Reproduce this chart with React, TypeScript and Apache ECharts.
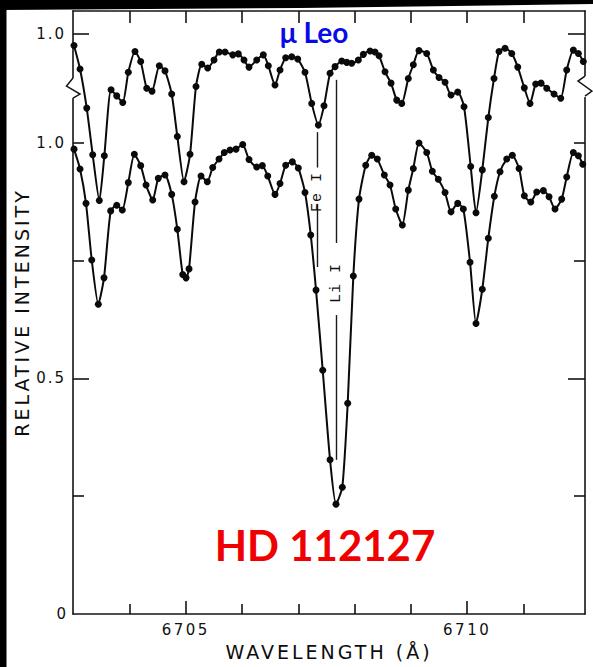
import React, { useEffect, useRef } from 'react';
import * as echarts from 'echarts';

// ---- Data ----
// HD 112127 (lower spectrum), wavelength in Å and relative intensity
const hdWavelength = [
  6703.013, 6703.12, 6703.226, 6703.328, 6703.445, 6703.546, 6703.665, 6703.772, 6703.871, 6703.978,
  6704.085, 6704.198, 6704.293, 6704.412, 6704.511, 6704.63, 6704.749, 6704.849, 6704.945, 6705.004,
  6705.057, 6705.164, 6705.27, 6705.382, 6705.478, 6705.59, 6705.684, 6705.786, 6705.892, 6706.011,
  6706.123, 6706.26, 6706.36, 6706.456, 6706.585, 6706.674, 6706.775, 6706.893, 6706.999, 6707.118,
  6707.22, 6707.314, 6707.433, 6707.563, 6707.669, 6707.781, 6707.877, 6707.977, 6708.078, 6708.197,
  6708.304, 6708.403, 6708.528, 6708.629, 6708.73, 6708.848, 6708.954, 6709.043, 6709.144, 6709.281,
  6709.381, 6709.487, 6709.607, 6709.713, 6709.832, 6709.932, 6710.051, 6710.157, 6710.269, 6710.376,
  6710.483, 6710.584, 6710.703, 6710.802, 6710.922, 6711.016, 6711.13, 6711.236, 6711.354, 6711.455,
  6711.561, 6711.68, 6711.769, 6711.887, 6711.976, 6712.054,
];
const hdIntensity = [
  0.986, 0.944, 0.871, 0.751, 0.657, 0.713, 0.855, 0.867, 0.857, 0.915,
  0.975, 0.951, 0.91, 0.878, 0.924, 0.931, 0.89, 0.816, 0.72, 0.713,
  0.732, 0.874, 0.929, 0.917, 0.947, 0.965, 0.979, 0.984, 0.986, 0.996,
  0.964, 0.948, 0.951, 0.929, 0.89, 0.913, 0.952, 0.959, 0.946, 0.894,
  0.804, 0.687, 0.517, 0.327, 0.233, 0.269, 0.447, 0.717, 0.88, 0.952,
  0.973, 0.965, 0.931, 0.91, 0.859, 0.825, 0.899, 0.945, 0.999, 0.979,
  0.939, 0.922, 0.894, 0.853, 0.871, 0.859, 0.746, 0.616, 0.689, 0.797,
  0.886, 0.938, 0.965, 0.973, 0.945, 0.887, 0.874, 0.895, 0.898, 0.885,
  0.859, 0.88, 0.927, 0.979, 0.972, 0.954,
];

// mu Leo (upper spectrum), own intensity scale; drawn shifted up by leoOffset
const leoWavelength = [
  6703.013, 6703.12, 6703.239, 6703.345, 6703.463, 6703.552, 6703.671, 6703.772, 6703.879, 6703.978,
  6704.097, 6704.198, 6704.305, 6704.399, 6704.529, 6704.63, 6704.749, 6704.849, 6704.968, 6705.075,
  6705.181, 6705.283, 6705.389, 6705.501, 6705.595, 6705.697, 6705.834, 6705.933, 6706.034, 6706.123,
  6706.26, 6706.377, 6706.466, 6706.585, 6706.674, 6706.775, 6706.882, 6706.989, 6707.118, 6707.237,
  6707.355, 6707.456, 6707.563, 6707.652, 6707.771, 6707.86, 6707.948, 6708.066, 6708.155, 6708.274,
  6708.362, 6708.434, 6708.54, 6708.647, 6708.748, 6708.837, 6708.954, 6709.043, 6709.144, 6709.281,
  6709.399, 6709.5, 6709.607, 6709.713, 6709.832, 6709.944, 6710.063, 6710.157, 6710.269, 6710.376,
  6710.477, 6710.566, 6710.673, 6710.792, 6710.899, 6711.016, 6711.117, 6711.218, 6711.313, 6711.414,
  6711.544, 6711.663, 6711.769, 6711.887, 6711.976, 6712.064,
];
const leoIntensity = [
  0.975, 0.925, 0.842, 0.743, 0.646, 0.741, 0.881, 0.868, 0.854, 0.918,
  0.962, 0.941, 0.884, 0.878, 0.932, 0.921, 0.872, 0.782, 0.686, 0.744,
  0.888, 0.935, 0.927, 0.944, 0.961, 0.961, 0.955, 0.957, 0.944, 0.929,
  0.944, 0.955, 0.932, 0.891, 0.923, 0.949, 0.951, 0.946, 0.918, 0.852,
  0.806, 0.847, 0.916, 0.93, 0.942, 0.939, 0.937, 0.944, 0.956, 0.963,
  0.961, 0.953, 0.919, 0.895, 0.859, 0.852, 0.905, 0.934, 0.964, 0.958,
  0.923, 0.907, 0.897, 0.87, 0.876, 0.845, 0.718, 0.62, 0.711, 0.822,
  0.905, 0.962, 0.969, 0.958, 0.929, 0.885, 0.852, 0.893, 0.895, 0.884,
  0.872, 0.863, 0.923, 0.965, 0.958, 0.941,
];
const leoOffset = 0.231;

// axis ranges and ticks
const xMin = 6702.995;
const xMax = 6712.094;
const xMajorTicks = [6705, 6710];
const xMinorTicks = [6704, 6706, 6707, 6708, 6709, 6711];
const yMin = 0;
const yMax = 1.279;
const yLabelValues = [0, 0.5, 1.0, 1.0 + leoOffset];
const yLongTicks = [0.5, 1.0 + leoOffset];
const yShortTicks = [0.25, 0.75, 1.0];

// line identifications: wavelength, segments [yTop, yBottom], label position
const feLineX = 6707.341;
const feSegments = [[1.022, 0.947], [0.87, 0.736]];
const feLabelY = 0.895;
const liLineX = 6707.682;
const liSegments = [[1.133, 0.787], [0.634, 0.327]];
const liLabelY = 0.702;

const SPACING: Record<string, number> = {
  'RELATIVE INTENSITY': 3,
  'WAVELENGTH (Å)': 3,
  '6705': 2.5,
  '6710': 2.5,
  '1.0': 2,
  '0.5': 2,
  'Fe I': 1,
  'Li I': 1,
};

function applySpacing(el: HTMLElement) {
  el.querySelectorAll('text').forEach((t) => {
    const s = SPACING[(t.textContent || '').trim()];
    if (s) t.setAttribute('letter-spacing', String(s));
  });
}

export default function App() {
  const ref = useRef<HTMLDivElement>(null);

  useEffect(() => {
    const el = ref.current!;
    const chart = echarts.init(el, null, { renderer: 'svg' });
    const axisColor = '#141414';
    const lineStyle = { color: axisColor, width: 1.6 };
    const tickFont = { fontFamily: 'DejaVu Sans', fontSize: 15, color: '#111' };
    const nameFont = { fontFamily: 'DejaVu Sans', fontSize: 19, color: '#0d0d0d' };
    const xCommon = { type: 'value', min: xMin, max: xMax, splitLine: { show: false } };
    const yCommon = { type: 'value', min: yMin, max: yMax, splitLine: { show: false } };
    const seriesStyle = {
      type: 'line',
      smooth: 0.2,
      symbol: 'circle',
      symbolSize: 7,
      showSymbol: true,
      showAllSymbol: true,
      lineStyle: { color: '#0a0a0a', width: 2 },
      itemStyle: { color: '#0a0a0a' },
      xAxisIndex: 0,
      yAxisIndex: 0,
      z: 3,
    };
    const seg = (x: number, s: number[]) => [{ coord: [x, s[0]] }, { coord: [x, s[1]] }];

    chart.setOption({
      animation: false,
      backgroundColor: '#fff',
      grid: { left: 73, right: 8, top: 11, bottom: 53 },
      xAxis: [
        {
          ...xCommon,
          position: 'bottom',
          axisLine: { onZero: false, lineStyle },
          axisTick: { inside: true, length: 13, customValues: xMajorTicks, lineStyle },
          axisLabel: { customValues: xMajorTicks, formatter: (v: number) => String(v), margin: 8, ...tickFont },
          name: 'WAVELENGTH (Å)',
          nameLocation: 'middle',
          nameGap: 28,
          nameTextStyle: nameFont,
        },
        {
          ...xCommon,
          position: 'bottom',
          axisLine: { show: false, onZero: false },
          axisTick: { inside: true, length: 10, customValues: xMinorTicks, lineStyle },
          axisLabel: { show: false },
        },
        {
          ...xCommon,
          position: 'top',
          axisLine: { onZero: false, lineStyle },
          axisTick: { inside: true, length: 12, customValues: [...xMajorTicks, ...xMinorTicks], lineStyle },
          axisLabel: { show: false },
        },
      ],
      yAxis: [
        {
          ...yCommon,
          position: 'left',
          axisLine: { onZero: false, lineStyle },
          axisTick: { inside: true, length: 16, customValues: yLongTicks, lineStyle },
          axisLabel: {
            customValues: yLabelValues,
            margin: 7,
            ...tickFont,
            formatter: (v: number) => (v === 0 ? '0' : (v > 1.1 ? v - leoOffset : v).toFixed(1)),
          },
          name: 'RELATIVE INTENSITY',
          nameLocation: 'middle',
          nameRotate: 90,
          nameGap: 38,
          nameTextStyle: nameFont,
        },
        {
          ...yCommon,
          position: 'left',
          axisLine: { show: false, onZero: false },
          axisTick: { inside: true, length: 11, customValues: yShortTicks, lineStyle },
          axisLabel: { show: false },
        },
        {
          ...yCommon,
          position: 'right',
          axisLine: { onZero: false, lineStyle },
          axisTick: { inside: true, length: 17, customValues: yLongTicks, lineStyle },
          axisLabel: { show: false },
        },
        {
          ...yCommon,
          position: 'right',
          axisLine: { show: false, onZero: false },
          axisTick: { inside: true, length: 11, customValues: yShortTicks, lineStyle },
          axisLabel: { show: false },
        },
      ],
      series: [
        {
          ...seriesStyle,
          name: 'HD 112127',
          data: hdWavelength.map((x, i) => [x, hdIntensity[i]]),
          markLine: {
            silent: true,
            symbol: ['none', 'none'],
            label: { show: false },
            lineStyle: { color: '#1a1a1a', width: 1.4, type: 'solid' },
            data: [
              ...feSegments.map((s) => seg(feLineX, s)),
              ...liSegments.map((s) => seg(liLineX, s)),
            ],
          },
        },
        {
          ...seriesStyle,
          name: 'μ Leo',
          data: leoWavelength.map((x, i) => [x, leoIntensity[i] + leoOffset]),
        },
      ],
    });

    const px = (x: number, y: number) =>
      chart.convertToPixel({ xAxisIndex: 0, yAxisIndex: 0 }, [x, y]) as number[];
    const fe = px(feLineX, feLabelY);
    const li = px(liLineX, liLabelY);
    const breakY = px(xMin, 1.0 + leoOffset / 2)[1];
    const idFont = { fontFamily: 'Liberation Mono', fontSize: 15, fill: '#111', align: 'center', verticalAlign: 'middle' };

    chart.setOption({
      graphic: [
        { type: 'rect', z: 100, shape: { x: 0, y: 0, width: 6.5, height: 667 }, style: { fill: '#000' } },
        { type: 'polygon', z: 100, shape: { points: [[0, 0], [593, 0], [593, 4], [300, 8], [0, 10]] }, style: { fill: '#000' } },
        // axis breaks
        { type: 'rect', z: 99, shape: { x: 70.5, y: breakY - 10, width: 5, height: 20 }, style: { fill: '#fff' } },
        { type: 'polyline', z: 100, shape: { points: [[73, breakY - 10], [66.5, breakY - 2], [80, breakY + 6], [73, breakY + 10]] }, style: { stroke: axisColor, lineWidth: 1.5, fill: 'none' } },
        { type: 'rect', z: 99, shape: { x: 583, y: breakY - 12, width: 5, height: 21 }, style: { fill: '#fff' } },
        { type: 'polyline', z: 100, shape: { points: [[585, breakY - 12], [578, breakY - 7], [592, breakY + 3], [585, breakY + 8]] }, style: { stroke: axisColor, lineWidth: 1.5, fill: 'none' } },
        // line identifications
        { type: 'text', z: 100, x: fe[0], y: fe[1], rotation: Math.PI / 2, style: { text: 'Fe I', ...idFont } },
        { type: 'text', z: 100, x: li[0], y: li[1], rotation: Math.PI / 2, style: { text: 'Li I', ...idFont } },
        // star names
        { type: 'text', z: 100, x: 314, y: 32, style: { text: 'μ Leo', fontFamily: 'Lato, "Open Sans", sans-serif', fontWeight: 'bold', fontSize: 28, fill: '#0a0ae6', align: 'center', verticalAlign: 'middle' } },
        { type: 'text', z: 100, x: 325, y: 545, style: { text: 'HD 112127', fontFamily: 'Lato, "Open Sans", sans-serif', fontWeight: 'bold', fontSize: 42, fill: '#f00000', align: 'center', verticalAlign: 'middle' } },
      ],
    });

    applySpacing(el);
    chart.on('finished', () => applySpacing(el));

    return () => {
      chart.dispose();
    };
  }, []);

  return (
    <div
      ref={ref}
      style={{ position: 'fixed', left: 0, top: 0, width: 593, height: 667, background: '#fff' }}
    />
  );
}
